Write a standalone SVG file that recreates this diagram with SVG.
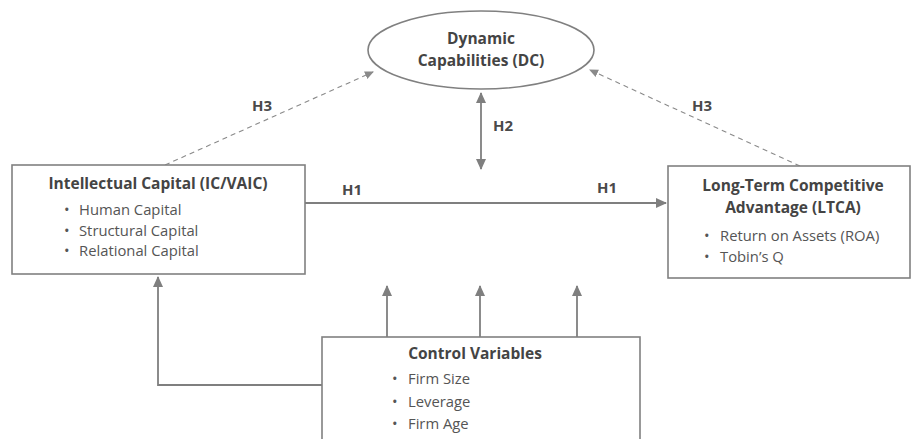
<svg xmlns="http://www.w3.org/2000/svg" width="915" height="439" viewBox="0 0 915 439">
<style>
.box{fill:#fff;stroke:#808080;stroke-width:1.6}
.ln{fill:none;stroke:#7f7f7f;stroke-width:1.8}
.dash{fill:none;stroke:#8a8a8a;stroke-width:1.1;stroke-dasharray:5 4}
.t{font-family:"Open Sans","Liberation Sans",sans-serif;font-weight:bold;fill:#444;font-size:15.5px}
.b{font-family:"Open Sans","Liberation Sans",sans-serif;fill:#555;font-size:14.8px}
.lab{font-family:"Open Sans","Liberation Sans",sans-serif;font-weight:bold;fill:#4a4a4a;font-size:15px}
</style>
<defs>
<marker id="ah" markerWidth="11" markerHeight="11" refX="10" refY="5.5" orient="auto" markerUnits="userSpaceOnUse">
<path d="M0,0.5 L11,5.5 L0,10.5 Z" fill="#7f7f7f"/>
</marker>
<marker id="ahs" markerWidth="11" markerHeight="11" refX="10" refY="5.5" orient="auto-start-reverse" markerUnits="userSpaceOnUse">
<path d="M0,0.5 L11,5.5 L0,10.5 Z" fill="#7f7f7f"/>
</marker>
<marker id="ahd" markerWidth="9" markerHeight="9" refX="8" refY="4.5" orient="auto" markerUnits="userSpaceOnUse">
<path d="M0,0.5 L9,4.5 L0,8.5 Z" fill="#8a8a8a"/>
</marker>
</defs>
<g id="connectors">
<line class="dash" x1="165" y1="165" x2="373" y2="72" marker-end="url(#ahd)"/>
<line class="dash" x1="800" y1="166" x2="590" y2="70" marker-end="url(#ahd)"/>
<line class="ln" x1="481" y1="93" x2="481" y2="169" marker-start="url(#ahs)" marker-end="url(#ahs)"/>
<line class="ln" x1="305" y1="203" x2="666" y2="203" marker-end="url(#ah)"/>
<polyline class="ln" points="322,385 158,385 158,277" marker-end="url(#ah)"/>
<line class="ln" x1="387" y1="337" x2="387" y2="286" marker-end="url(#ah)"/>
<line class="ln" x1="480" y1="337" x2="480" y2="286" marker-end="url(#ah)"/>
<line class="ln" x1="577" y1="337" x2="577" y2="286" marker-end="url(#ah)"/>
<text class="lab" x="262" y="111" text-anchor="middle">H3</text>
<text class="lab" x="702" y="111" text-anchor="middle">H3</text>
<text class="lab" x="503" y="131" text-anchor="middle">H2</text>
<text class="lab" x="352" y="195" text-anchor="middle">H1</text>
<text class="lab" x="607" y="193" text-anchor="middle">H1</text>
</g>
<g id="dc">
<ellipse class="box" cx="481" cy="50" rx="113" ry="39"/>
<text class="t" x="481" y="44" text-anchor="middle" font-size="17">Dynamic</text>
<text class="t" x="481" y="66" text-anchor="middle" font-size="17">Capabilities (DC)</text>
</g>
<g id="ic">
<rect class="box" x="12" y="165" width="293" height="109"/>
<text class="t" x="158" y="189" text-anchor="middle">Intellectual Capital (IC/VAIC)</text>
<text class="b" x="64" y="215" font-size="17">•</text><text class="b" x="79" y="215">Human Capital</text>
<text class="b" x="64" y="236" font-size="17">•</text><text class="b" x="79" y="236">Structural Capital</text>
<text class="b" x="64" y="256" font-size="17">•</text><text class="b" x="79" y="256">Relational Capital</text>
</g>
<g id="ltca">
<rect class="box" x="668" y="166" width="242" height="112"/>
<text class="t" x="793" y="191" text-anchor="middle" font-size="15">Long-Term Competitive</text>
<text class="t" x="793" y="213" text-anchor="middle" font-size="15">Advantage (LTCA)</text>
<text class="b" x="704" y="241" font-size="17">•</text><text class="b" x="720" y="241">Return on Assets (ROA)</text>
<text class="b" x="704" y="262" font-size="17">•</text><text class="b" x="720" y="262">Tobin’s Q</text>
</g>
<g id="cv">
<rect class="box" x="322" y="337" width="318" height="120"/>
<text class="t" x="475" y="359" text-anchor="middle">Control Variables</text>
<text class="b" x="392" y="384" font-size="17">•</text><text class="b" x="408" y="384">Firm Size</text>
<text class="b" x="392" y="407" font-size="17">•</text><text class="b" x="408" y="407">Leverage</text>
<text class="b" x="392" y="429" font-size="17">•</text><text class="b" x="408" y="429">Firm Age</text>
</g>
</svg>
